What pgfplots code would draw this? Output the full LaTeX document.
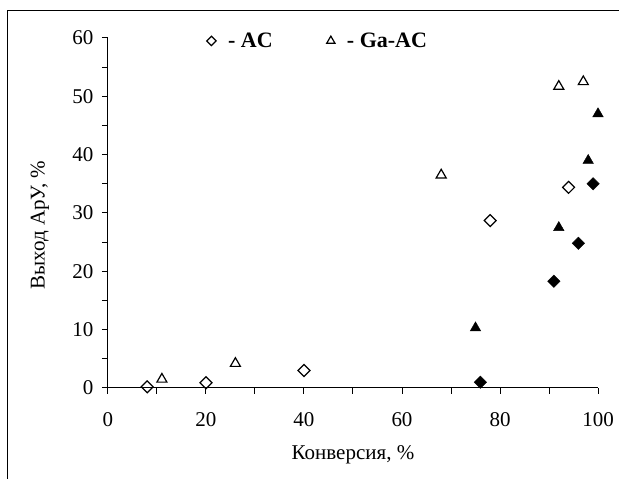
\documentclass[border=0pt]{standalone}
\usepackage{fontspec}
\setmainfont{Liberation Serif}
\usepackage{pgfplots}
\pgfplotsset{compat=1.18}
\begin{document}
\begin{tikzpicture}
\useasboundingbox (-108pt,-91pt) rectangle (511pt,388pt);
\draw[line width=1pt] (-100pt,-100pt) -- (-100pt,377pt) -- (520pt,377pt);
\begin{axis}[
  at={(0pt,0pt)}, anchor=south west,
  width=490pt, height=350pt, scale only axis,
  xmin=0, xmax=100, ymin=0, ymax=60,
  axis lines=left,
  axis line style={-, line width=1pt},
  xtick={0,20,...,100}, minor xtick={10,30,...,90},
  ytick={0,10,...,60}, minor ytick={5,15,...,55},
  tick align=outside,
  major tick length=6pt, minor tick length=6pt,
  every tick/.style={black, line width=1pt},
  tick label style={font=\fontsize{21}{25}\selectfont},
  xticklabel style={yshift=-15pt},
  yticklabel style={xshift=-5pt},
  /pgf/number format/assume math mode=true,
  xlabel={Конверсия, \%},
  ylabel={Выход АрУ, \%},
  label style={font=\fontsize{21}{25}\selectfont},
  xlabel style={at={(axis description cs:0.5,-0.19)}, anchor=center},
  ylabel style={at={(axis description cs:-0.139,0.465)}, anchor=center},
  clip=false,
  legend columns=2,
  legend style={draw=none, fill=none, at={(axis cs:19.5,59.5)}, anchor=west,
    font=\bfseries\fontsize{22}{26}\selectfont,
    /tikz/every odd column/.append style={column sep=10pt},
    /tikz/every even column/.append style={column sep=52pt}},
]
\addplot[only marks, mark=square, mark size=4.2pt, mark options={rotate=45, line width=1.2pt, fill=white},
  legend image post style={mark size=3.3pt}]
  coordinates {(8,0.2)(20,0.9)(40,3.0)(78,28.7)(94,34.4)};
\addlegendentry{- AC}
\addplot[only marks, mark=triangle, mark size=5.8pt, mark options={line width=1.2pt, fill=white},
  legend image post style={mark size=4.8pt}]
  coordinates {(11,1.5)(26,4.2)(68,36.5)(92,51.7)(97,52.5)};
\addlegendentry{- Ga-AC}
\addplot[only marks, forget plot, mark=square*, mark size=4.4pt, mark options={rotate=45, fill=black}]
  coordinates {(76,1.0)(91,18.3)(96,24.8)(99,35.0)};
\addplot[only marks, forget plot, mark=triangle*, mark size=6.1pt, mark options={fill=black}]
  coordinates {(75,10.3)(92,27.5)(98,39.0)(100,47.0)};
\end{axis}
\end{tikzpicture}
\end{document}
